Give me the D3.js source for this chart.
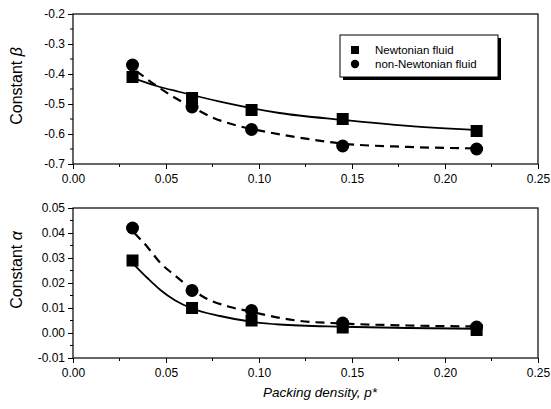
<!DOCTYPE html>
<html>
<head>
<meta charset="utf-8">
<script src="https://cdn.jsdelivr.net/npm/d3@7"></script>
<style>
  body { margin: 0; background: #fff; }
  svg { font-family: "Liberation Sans", Arial, sans-serif; }
</style>
</head>
<body>
<svg id="chart" width="551" height="409"></svg>
<script>
// packing density of the measured samples
const density = [0.032, 0.064, 0.096, 0.145, 0.217];

// constant beta (top panel)
const betaNewtonian = [-0.41, -0.48, -0.52, -0.55, -0.59];
const betaNonNewtonian = [-0.37, -0.51, -0.585, -0.64, -0.65];

// constant alpha (bottom panel)
const alphaNewtonian = [0.029, 0.010, 0.005, 0.0022, 0.0012];
const alphaNonNewtonian = [0.042, 0.017, 0.009, 0.004, 0.0024];

// fitted curves
const betaFitNewtonian = [[0.032, -0.413], [0.045, -0.44], [0.0575, -0.46], [0.079, -0.492],
  [0.111, -0.53], [0.145, -0.553], [0.18, -0.573], [0.217, -0.587]];
const betaFitNonNewtonian = [[0.034, -0.39], [0.045, -0.44], [0.055, -0.48], [0.064, -0.51],
  [0.075, -0.545], [0.087, -0.57], [0.096, -0.583], [0.113, -0.603], [0.13, -0.62],
  [0.145, -0.632], [0.18, -0.643], [0.217, -0.648]];
const alphaFitNewtonian = [[0.032, 0.028], [0.04, 0.022], [0.047, 0.0172], [0.055, 0.013],
  [0.064, 0.0098], [0.079, 0.0068], [0.096, 0.0045], [0.111, 0.0034], [0.145, 0.0025],
  [0.18, 0.002], [0.217, 0.0017]];
const alphaFitNonNewtonian = [[0.033, 0.040], [0.04, 0.0344], [0.047, 0.028], [0.054, 0.0235],
  [0.064, 0.0175], [0.07, 0.0145], [0.084, 0.0105], [0.096, 0.0085], [0.106, 0.0068],
  [0.12, 0.005], [0.145, 0.0038], [0.18, 0.003], [0.217, 0.0026]];

const xTicks = [0.00, 0.05, 0.10, 0.15, 0.20, 0.25];
const betaTicks = [-0.2, -0.3, -0.4, -0.5, -0.6, -0.7];
const alphaTicks = [0.05, 0.04, 0.03, 0.02, 0.01, 0.00, -0.01];
const legendLabels = ["Newtonian fluid", "non-Newtonian fluid"];

const svg = d3.select("#chart");
const left = 73, right = 538;

const x = d3.scaleLinear().domain([0, 0.25]).range([left, right]);

// plain hyphen for negatives, like the original
const fmtHyphen = f => v => d3.format(f)(v).replace("\u2212", "-");

function panel(opts) {
  const y = d3.scaleLinear().domain(opts.domain).range([opts.bottom, opts.top]);
  const g = svg.append("g");

  // frame
  g.append("rect")
    .attr("x", left).attr("y", opts.top)
    .attr("width", right - left).attr("height", opts.bottom - opts.top)
    .attr("fill", "none").attr("stroke", "#000").attr("stroke-width", 1.2);

  // minor ticks
  const step = opts.ticks[0] - opts.ticks[1];
  const yMinor = opts.ticks.slice(1).map(t => t + step / 2);
  g.selectAll(".ymin").data(yMinor).enter().append("line")
    .attr("x1", left - 3).attr("x2", left)
    .attr("y1", d => y(d)).attr("y2", d => y(d))
    .attr("stroke", "#000").attr("stroke-width", 1);
  const xMinor = xTicks.slice(1).map(t => t - 0.025);
  g.selectAll(".xmin").data(xMinor).enter().append("line")
    .attr("x1", d => x(d)).attr("x2", d => x(d))
    .attr("y1", opts.bottom).attr("y2", opts.bottom + 3)
    .attr("stroke", "#000").attr("stroke-width", 1);

  const yAxis = d3.axisLeft(y).tickValues(opts.ticks).tickFormat(opts.fmt)
    .tickSize(5).tickPadding(3);
  const ya = g.append("g").attr("transform", `translate(${left},0)`).call(yAxis);
  ya.select(".domain").remove();
  ya.selectAll("text").attr("font-size", 12).attr("fill", "#000")
    .attr("font-family", "Liberation Sans, Arial, sans-serif");

  const xAxis = d3.axisBottom(x).tickValues(xTicks).tickFormat(d3.format(".2f"))
    .tickSize(5).tickPadding(5);
  const xa = g.append("g").attr("transform", `translate(0,${opts.bottom})`).call(xAxis);
  xa.select(".domain").remove();
  xa.selectAll("text").attr("font-size", 12).attr("fill", "#000")
    .attr("font-family", "Liberation Sans, Arial, sans-serif");

  // fitted curves
  const line = d3.line().x(d => x(d[0])).y(d => y(d[1])).curve(d3.curveMonotoneX);
  g.append("path").datum(opts.fitA).attr("d", line)
    .attr("fill", "none").attr("stroke", "#000").attr("stroke-width", 1.8);
  g.append("path").datum(opts.fitB).attr("d", line)
    .attr("fill", "none").attr("stroke", "#000").attr("stroke-width", 2.2)
    .attr("stroke-dasharray", "9,6");

  // markers
  g.selectAll(".sq").data(density.map((d, i) => [d, opts.a[i]])).enter().append("rect")
    .attr("x", d => x(d[0]) - 6).attr("y", d => y(d[1]) - 6)
    .attr("width", 12).attr("height", 12).attr("fill", "#000");
  g.selectAll(".ci").data(density.map((d, i) => [d, opts.b[i]])).enter().append("circle")
    .attr("cx", d => x(d[0])).attr("cy", d => y(d[1])).attr("r", 6.5).attr("fill", "#000");

  // y title
  const t = g.append("text")
    .attr("transform", `translate(22,${opts.labelY}) rotate(-90)`)
    .attr("text-anchor", "middle").attr("font-size", 16).attr("fill", "#000");
  t.append("tspan").text("Constant ");
  t.append("tspan").attr("font-style", "italic").text(opts.sym);
  return y;
}

panel({
  top: 14, bottom: 164, domain: [-0.7, -0.2], ticks: betaTicks, fmt: fmtHyphen(".1f"),
  a: betaNewtonian, b: betaNonNewtonian, fitA: betaFitNewtonian, fitB: betaFitNonNewtonian,
  sym: "β", labelY: 86
});
panel({
  top: 208, bottom: 358, domain: [-0.01, 0.05], ticks: alphaTicks, fmt: fmtHyphen(".2f"),
  a: alphaNewtonian, b: alphaNonNewtonian, fitA: alphaFitNewtonian, fitB: alphaFitNonNewtonian,
  sym: "α", labelY: 270
});

// x title
const xt = svg.append("text").attr("x", 320).attr("y", 397)
  .attr("text-anchor", "middle").attr("font-size", 13.5).attr("font-style", "italic")
  .text("Packing density, ");
xt.append("tspan").text("p*");

// legend
const lg = svg.append("g");
lg.append("rect").attr("x", 343).attr("y", 38).attr("width", 158).attr("height", 42).attr("fill", "#000");
lg.append("rect").attr("x", 340).attr("y", 35).attr("width", 158).attr("height", 42)
  .attr("fill", "#fff").attr("stroke", "#000").attr("stroke-width", 1);
lg.append("rect").attr("x", 351).attr("y", 46).attr("width", 8).attr("height", 8).attr("fill", "#000");
lg.append("circle").attr("cx", 355).attr("cy", 64).attr("r", 4.2).attr("fill", "#000");
lg.selectAll(".lt").data(legendLabels).enter().append("text")
  .attr("x", 375).attr("y", (d, i) => 54 + i * 14)
  .attr("font-size", 11.5).attr("fill", "#000").text(d => d);
</script>
</body>
</html>
